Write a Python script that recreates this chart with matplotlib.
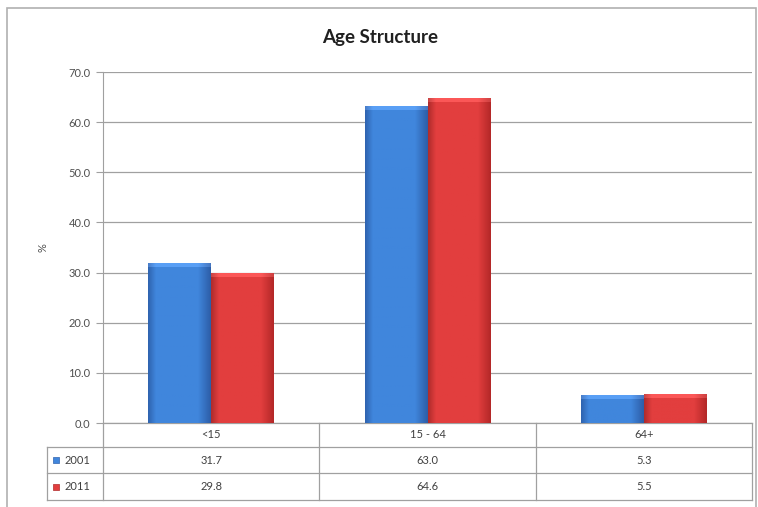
import numpy as np
import matplotlib.pyplot as plt
from matplotlib.colors import to_rgb
from matplotlib.patches import Rectangle

plt.rcParams['font.family'] = ['Lato', 'DejaVu Sans']

# Dane
categories = ['<15', '15 - 64', '64+']
series = ['2001', '2011']
v2001 = [31.7, 63.0, 5.3]
v2011 = [29.8, 64.6, 5.5]
labels2001 = ['31.7', '63.0', '5.3']
labels2011 = ['29.8', '64.6', '5.5']

colors = {'2001': ('#2f64b0', '#4086dc', '#2d5ea8'),
          '2011': ('#b02c2c', '#e23e3e', '#b42828')}

fig = plt.figure(figsize=(7.58, 5.07), dpi=100)
ax = fig.add_axes([103/758, 84/507, 649/758, 351/507])

# ramka wykresu
fig.patches.append(Rectangle((7/758, -0.02), 749/758, (507-8)/507 + 0.02,
                             transform=fig.transFigure, fill=False,
                             edgecolor='#b0b0b0', lw=1.2))


def grad_bar(ax, x0, w, h, cols):
    # poziomy gradient imitujacy efekt 3D
    c0, c1, c2 = [np.array(to_rgb(c)) for c in cols]
    t = np.linspace(0, 1, 64)
    row = np.empty((64, 3))
    for i, s in enumerate(t):
        if s < 0.12:
            row[i] = c0 + (c1 - c0) * (s / 0.12)
        elif s < 0.8:
            row[i] = c1
        else:
            row[i] = c1 + (c2 - c1) * ((s - 0.8) / 0.2)
    img = np.tile(row, (40, 1, 1))
    ax.imshow(img, extent=(x0, x0 + w, 0, h), aspect='auto', zorder=3,
              interpolation='bilinear')
    cap = 0.6
    ax.imshow(np.clip(row + 0.1, 0, 1)[None, :, :],
              extent=(x0, x0 + w, h - cap, h), aspect='auto', zorder=4,
              interpolation='bilinear')


x = np.arange(len(categories))
bw = 0.29
for i in range(len(categories)):
    grad_bar(ax, x[i] - bw, bw, v2001[i], colors['2001'])
    grad_bar(ax, x[i], bw, v2011[i], colors['2011'])

ax.set_xlim(-0.5, 2.5)
ax.set_ylim(0, 70)
ax.set_yticks(np.arange(0, 71, 10))
ax.set_yticklabels([f'{v:.1f}' for v in np.arange(0, 71, 10)],
                   fontsize=8, color='#505050')
ax.tick_params(axis='y', length=5, color='#a0a0a0', pad=4)
ax.set_xticks([])
ax.grid(axis='y', color='#a0a0a0', lw=0.9, zorder=0)
ax.set_axisbelow(True)
for s in ['top', 'right', 'bottom']:
    ax.spines[s].set_visible(False)
ax.spines['left'].set_color('#a0a0a0')
ax.set_ylabel('%', fontsize=8, color='#505050', labelpad=14)

# Tabela danych
trans = ax.get_xaxis_transform()
rows = [0, -24/351, -50/351, -77/351]
xl = -0.5 - 56/216.3
lc = '#a0a0a0'
ax.plot([-0.5, 2.5], [rows[0], rows[0]], transform=trans, color=lc, lw=0.9, clip_on=False)
for r in rows[1:]:
    ax.plot([xl, 2.5], [r, r], transform=trans, color=lc, lw=0.9, clip_on=False)
for xv in [-0.5, 0.5, 1.5, 2.5]:
    ax.plot([xv, xv], [rows[0], rows[3]], transform=trans, color=lc, lw=0.9, clip_on=False)
ax.plot([xl, xl], [rows[1], rows[3]], transform=trans, color=lc, lw=0.9, clip_on=False)

for i, c in enumerate(categories):
    ax.text(x[i], (rows[0] + rows[1]) / 2, c, transform=trans, ha='center',
            va='center', fontsize=8, color='#404040')
    ax.text(x[i], (rows[1] + rows[2]) / 2, labels2001[i], transform=trans,
            ha='center', va='center', fontsize=8, color='#404040')
    ax.text(x[i], (rows[2] + rows[3]) / 2, labels2011[i], transform=trans,
            ha='center', va='center', fontsize=8, color='#404040')

for k, (name, r0, r1) in enumerate([('2001', rows[1], rows[2]), ('2011', rows[2], rows[3])]):
    ym = (r0 + r1) / 2
    ax.scatter([xl + 0.04], [ym], transform=trans, marker='s', s=22,
               color=colors[name][1], edgecolor=colors[name][0], lw=0.5, clip_on=False)
    ax.text(xl + 0.08, ym, name, transform=trans, ha='left', va='center',
            fontsize=8, color='#404040')

fig.text(380/758, 1 - 38/507, 'Age Structure', ha='center', va='center',
         fontsize=13.5, fontweight='bold', color='#202020')

plt.savefig('out.png', dpi=100)
